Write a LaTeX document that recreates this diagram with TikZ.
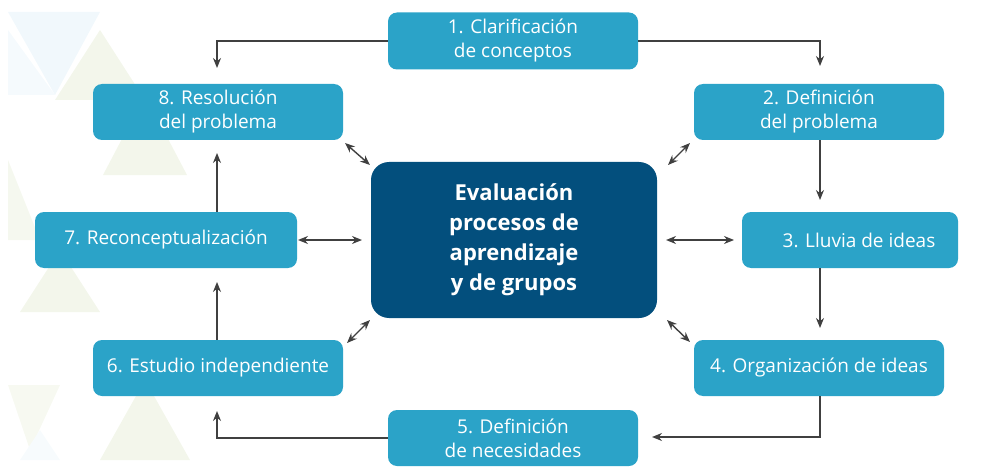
\documentclass[tikz,border=0pt]{standalone}
\usepackage{fontspec}
\setmainfont{Open Sans}
\usetikzlibrary{arrows.meta}
\definecolor{boxc}{HTML}{2BA3C8}
\definecolor{centc}{HTML}{034F7D}
\definecolor{arrc}{HTML}{404040}
\definecolor{bgblue}{HTML}{F1F8FC}
\definecolor{bggreen}{HTML}{F3F6EB}
\tikzset{
  stepbox/.style={fill=boxc, rounded corners=9pt, text=white, align=center,
    font=\fontsize{19}{24}\selectfont, inner sep=0pt},
  centbox/.style={fill=centc, rounded corners=18pt, text=white, align=center,
    font=\fontsize{22}{30}\selectfont\bfseries, inner sep=0pt},
  flow/.style={draw=arrc, line width=1.4pt, -{Stealth[length=10pt,width=8pt]}},
  both/.style={draw=arrc, line width=1.4pt, {Stealth[length=10pt,width=8pt]}-{Stealth[length=10pt,width=8pt]}}
}
\begin{document}
\begin{tikzpicture}[x=1pt,y=-1pt]
\useasboundingbox (0,0) rectangle (988,468);
% background triangles
\fill[bgblue] (8,12) -- (100,12) -- (55,95) -- cycle;
\fill[bgblue!70] (8,30) -- (55,95) -- (8,95) -- cycle;
\fill[bggreen] (100,30) -- (145,100) -- (55,100) -- cycle;
\fill[bggreen] (145,95) -- (187,175) -- (103,175) -- cycle;
\fill[bggreen!80] (8,160) -- (40,240) -- (8,240) -- cycle;
\fill[bggreen] (60,250) -- (100,312) -- (20,312) -- cycle;
\fill[bggreen!70] (8,385) -- (60,385) -- (30,450) -- cycle;
\fill[bggreen] (145,380) -- (190,460) -- (100,460) -- cycle;
\fill[bgblue!60] (20,460) -- (60,460) -- (40,430) -- cycle;

% nodes
\node[stepbox, minimum width=250pt, minimum height=57pt] (s1) at (513,41) {1. Clarificación\\de conceptos};
\node[stepbox, minimum width=250pt, minimum height=56pt] (s2) at (819,112) {2. Definición\\del problema};
\node[stepbox, minimum width=216pt, minimum height=56pt] (s3) at (850,240) {\hspace*{18pt}3. Lluvia de ideas};
\node[stepbox, minimum width=250pt, minimum height=56pt] (s4) at (819,368) {4. Organización de ideas};
\node[stepbox, minimum width=250pt, minimum height=56pt] (s5) at (513,438) {5. Definición\\de necesidades};
\node[stepbox, minimum width=250pt, minimum height=56pt] (s6) at (218,368) {6. Estudio independiente};
\node[stepbox, minimum width=262pt, minimum height=56pt] (s7) at (166,240) {7. Reconceptualización};
\node[stepbox, minimum width=250pt, minimum height=56pt] (s8) at (218,112) {8. Resolución\\del problema};
\node[centbox, minimum width=286pt, minimum height=156pt] (c) at (514,240) {Evaluación\\procesos de\\aprendizaje\\y de grupos};

% coordinates for free ends
\coordinate (t8) at (217,68);
\coordinate (t2) at (820,66);
\coordinate (t3) at (820,200);
\coordinate (t4) at (820,328);
\coordinate (t5) at (652,437);
\coordinate (t6) at (217,411);
\coordinate (t7) at (217,282);
\coordinate (t8b) at (217,153);

% flow connectors
\draw[flow] (s1.west) -| (t8);
\draw[flow] (s1.east) -| (t2);
\draw[flow] (s2.south -| t3) -- (t3);
\draw[flow] (s3.south -| t4) -- (t4);
\draw[flow] (s4.south -| t4) |- (t5);
\draw[flow] (s5.west) -| (t6);
\draw[flow] (s6.north -| t7) -- (t7);
\draw[flow] (s7.north -| t8b) -- (t8b);

% double arrows
\coordinate (l1) at (298,240); \coordinate (l2) at (362,240);
\coordinate (r1) at (666,240); \coordinate (r2) at (734,240);
\coordinate (a1) at (345,143); \coordinate (a2) at (370,165);
\coordinate (b1) at (347,343); \coordinate (b2) at (370,320);
\coordinate (d1) at (668,165); \coordinate (d2) at (690,143);
\coordinate (e1) at (667,320); \coordinate (e2) at (690,342);
\draw[both] (l1) -- (l2);
\draw[both] (r1) -- (r2);
\draw[both] (a1) -- (a2);
\draw[both] (b1) -- (b2);
\draw[both] (d1) -- (d2);
\draw[both] (e1) -- (e2);
\end{tikzpicture}
\end{document}
